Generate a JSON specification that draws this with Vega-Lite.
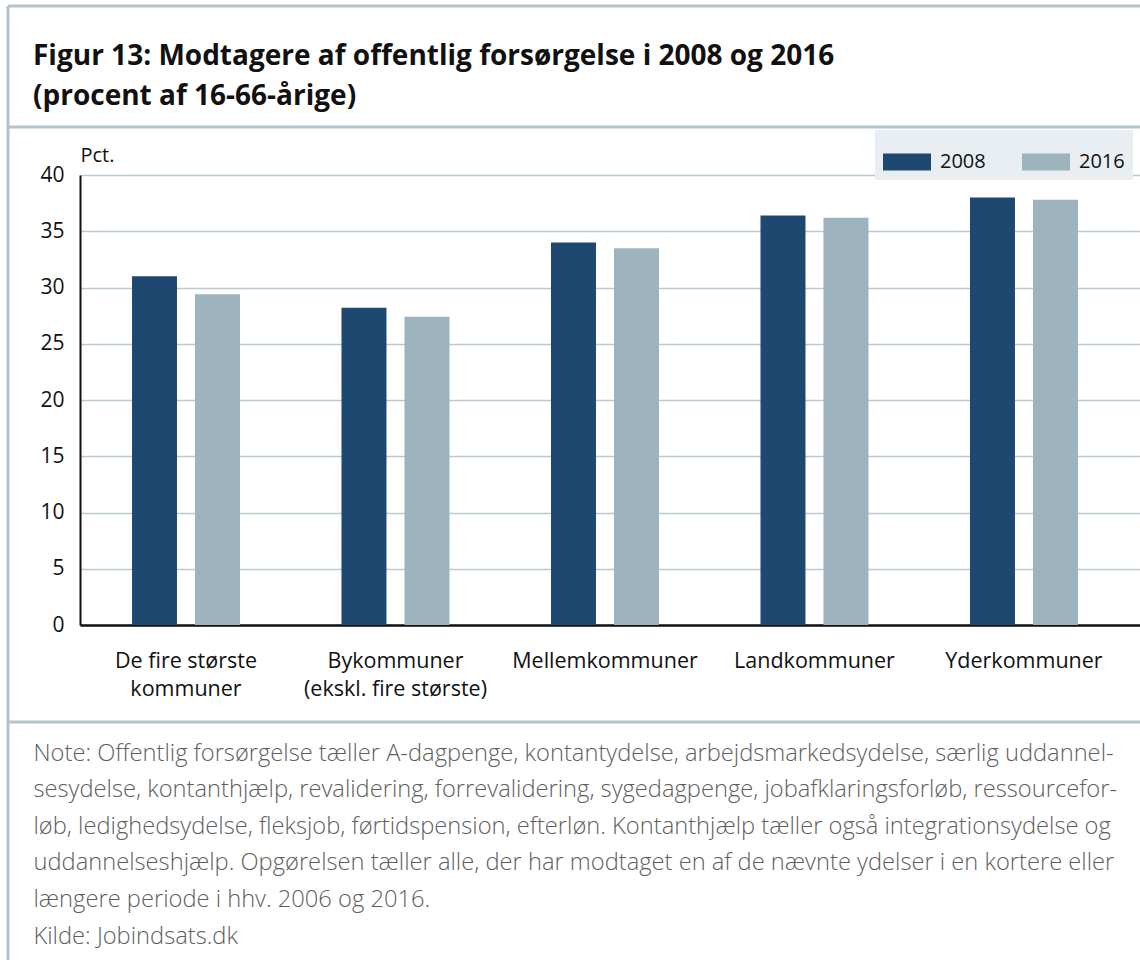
{
  "$schema": "https://vega.github.io/schema/vega-lite/v6.json",
  "width": 1060,
  "height": 450,
  "autosize": {"type": "none"},
  "padding": {"left": 80, "top": 175, "right": 0, "bottom": 335},
  "background": "white",
  "config": {
    "view": {"stroke": null},
    "font": "Open Sans"
  },
  "title": {
    "text": ["Figur 13: Modtagere af offentlig forsørgelse i 2008 og 2016", "(procent af 16-66-årige)"],
    "anchor": "start",
    "frame": "group",
    "dx": -47,
    "dy": 106,
    "offset": 0,
    "fontSize": 28,
    "fontWeight": "bold",
    "font": "Open Sans",
    "color": "#111111",
    "lineHeight": 40
  },
  "data": {
    "values": [
      {"kommune": "De fire største kommuner", "aar": "2008", "pct": 31.0},
      {"kommune": "De fire største kommuner", "aar": "2016", "pct": 29.4},
      {"kommune": "Bykommuner (ekskl. fire største)", "aar": "2008", "pct": 28.2},
      {"kommune": "Bykommuner (ekskl. fire største)", "aar": "2016", "pct": 27.4},
      {"kommune": "Mellemkommuner", "aar": "2008", "pct": 34.0},
      {"kommune": "Mellemkommuner", "aar": "2016", "pct": 33.5},
      {"kommune": "Landkommuner", "aar": "2008", "pct": 36.4},
      {"kommune": "Landkommuner", "aar": "2016", "pct": 36.2},
      {"kommune": "Yderkommuner", "aar": "2008", "pct": 38.0},
      {"kommune": "Yderkommuner", "aar": "2016", "pct": 37.8}
    ]
  },
  "layer": [
    {
      "mark": {"type": "bar"},
      "encoding": {
        "x": {
          "field": "kommune",
          "type": "nominal",
          "sort": null,
          "scale": {"paddingInner": 0.4845, "paddingOuter": 0.2721, "align": 0.456},
          "axis": {
            "labelAngle": 0,
            "labelExpr": "datum.label == 'De fire største kommuner' ? ['De fire største', 'kommuner'] : datum.label == 'Bykommuner (ekskl. fire største)' ? ['Bykommuner', '(ekskl. fire største)'] : datum.label",
            "labelFontSize": 21.5,
            "labelColor": "#111111",
            "labelPadding": 25,
            "labelLineHeight": 28,
            "labelBaseline": "top",
            "labelLimit": 0,
            "labelOverlap": false,
            "ticks": false,
            "domainColor": "#111111",
            "domainWidth": 2.5,
            "grid": false,
            "title": ["Note: Offentlig forsørgelse tæller A-dagpenge, kontantydelse, arbejdsmarkedsydelse, særlig uddannel-", "sesydelse, kontanthjælp, revalidering, forrevalidering, sygedagpenge, jobafklaringsforløb, ressourcefor-", "løb, ledighedsydelse, fleksjob, førtidspension, efterløn. Kontanthjælp tæller også integrationsydelse og", "uddannelseshjælp. Opgørelsen tæller alle, der har modtaget en af de nævnte ydelser i en kortere eller", "længere periode i hhv. 2006 og 2016.", "Kilde: Jobindsats.dk"],
            "titleX": -47,
            "titleY": 116,
            "titleAlign": "left",
            "titleAnchor": "start",
            "titleBaseline": "top",
            "titleFontSize": 23.7,
            "titleFontWeight": 300,
            "titleColor": "#5e5e5e",
            "titleLineHeight": 36.6,
            "titleLimit": 0
          }
        },
        "xOffset": {
          "field": "aar",
          "type": "nominal",
          "scale": {"paddingInner": 0.2857, "paddingOuter": 0}
        },
        "y": {
          "field": "pct",
          "type": "quantitative",
          "scale": {"domain": [0, 40], "nice": false},
          "axis": {
            "values": [0, 5, 10, 15, 20, 25, 30, 35, 40],
            "labelFontSize": 21,
            "labelColor": "#111111",
            "labelPadding": 16,
            "ticks": false,
            "domainColor": "#111111",
            "domainWidth": 2,
            "gridColor": "#b9cad2",
            "gridWidth": 1.5,
            "title": "Pct.",
            "titleAngle": 0,
            "titleX": 0,
            "titleY": -20,
            "titleAlign": "left",
            "titleBaseline": "middle",
            "titleFontSize": 20,
            "titleFontWeight": "normal",
            "titleColor": "#111111"
          }
        },
        "color": {
          "field": "aar",
          "type": "nominal",
          "scale": {"domain": ["2008", "2016"], "range": ["#1f4871", "#9db3bd"]},
          "legend": {
            "title": null,
            "orient": "none",
            "direction": "horizontal",
            "legendX": 795,
            "legendY": -45,
            "fillColor": "#e8eef1",
            "padding": 8,
            "symbolType": "M-1,-0.354H1V0.354H-1Z",
            "symbolSize": 2304,
            "symbolStrokeWidth": 0,
            "symbolOpacity": 1,
            "labelFontSize": 20,
            "labelColor": "#111111",
            "labelOffset": 9,
            "columnPadding": 36
          }
        }
      }
    },
    {
      "data": {"values": [{}]},
      "mark": {"type": "rule", "color": "#b3c3ca", "strokeWidth": 3, "clip": false},
      "encoding": {"x": {"value": -72}, "x2": {"value": 1060}, "y": {"value": -169}}
    },
    {
      "data": {"values": [{}]},
      "mark": {"type": "rule", "color": "#b3c3ca", "strokeWidth": 3, "clip": false},
      "encoding": {"x": {"value": -72}, "x2": {"value": 1060}, "y": {"value": -48}}
    },
    {
      "data": {"values": [{}]},
      "mark": {"type": "rule", "color": "#b3c3ca", "strokeWidth": 3, "clip": false},
      "encoding": {"x": {"value": -72}, "x2": {"value": 1060}, "y": {"value": 547}}
    },
    {
      "data": {"values": [{}]},
      "mark": {"type": "rule", "color": "#b3c3ca", "strokeWidth": 3, "clip": false},
      "encoding": {"x": {"value": -72}, "y": {"value": -169}, "y2": {"value": 785}}
    }
  ]
}
